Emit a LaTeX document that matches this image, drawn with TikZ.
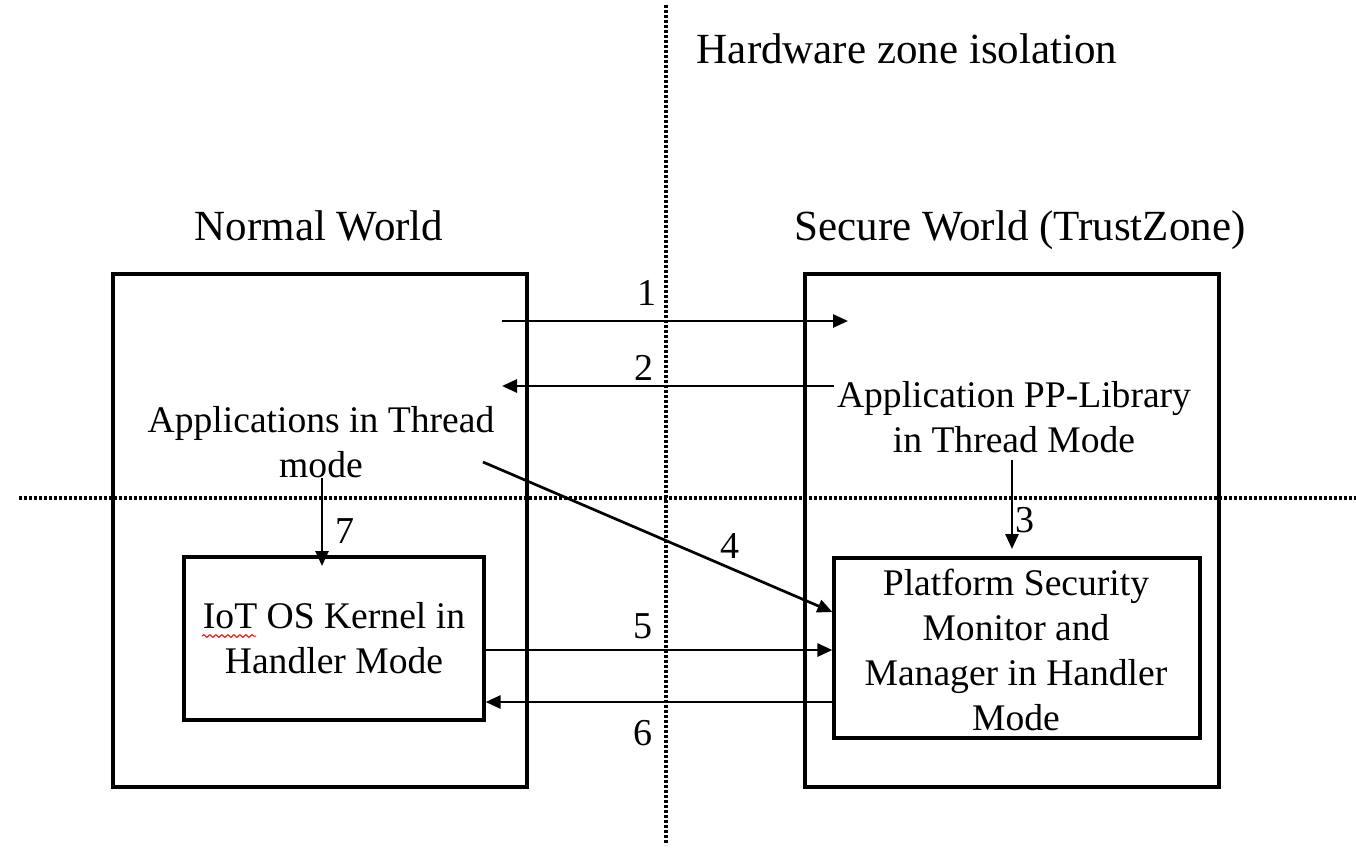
\documentclass[tikz,border=0pt]{standalone}
\usepackage{fontspec}
\setmainfont{Liberation Serif}
\usetikzlibrary{arrows.meta,fit,decorations.pathmorphing}
\begin{document}
\begin{tikzpicture}[x=0.5pt,y=-0.5pt,
  box/.style={draw, line width=1.6pt, inner sep=0pt},
  zone/.style={line width=1.7pt, dash pattern=on 1.4pt off 1.1pt},
  flow/.style={line width=1.35pt, -{Triangle[length=7.5pt,width=6.5pt]}},
  title/.style={font=\fontsize{21.5pt}{22.5pt}\selectfont, anchor=base, inner sep=0pt},
  txt/.style={font=\fontsize{18.8pt}{22.5pt}\selectfont, align=center, anchor=base, inner sep=0pt},
  num/.style={font=\fontsize{19pt}{22.5pt}\selectfont, anchor=base, inner sep=0pt},
]
\useasboundingbox[fill=white] (0,0) rectangle (1356,848);

% isolation boundaries
\coordinate (vtop) at (666,5);
\coordinate (vbot) at (666,845);
\coordinate (hleft) at (19,498);
\coordinate (hright) at (1360,498);
\draw[zone] (vtop) -- (vbot);
\draw[zone] (hleft) -- (hright);

% titles
\node[title] (hw) at (907,63) {Hardware zone isolation};
\node[title] (nwt) at (319,240) {Normal World};
\node[title] (swt) at (1020,240) {Secure World (TrustZone)};

% worlds
\node[box, fit={(113,274) (527,787)}] (normal) {};
\node[box, fit={(805,274) (1219,787)}] (secure) {};

% inner boxes
\node[box, fit={(184,557) (484,720)}] (kernel) {};
\node[box, fit={(834,558) (1200,738)}] (psm) {};

% texts (anchored at the baseline of their last line)
\node[txt] (apps) at (321,477) {Applications in Thread\\mode};
\node[txt] (lib) at (1014,452) {Application PP-Library\\in Thread Mode};
\node[txt] (ktext) at (334,673) {IoT OS Kernel in\\Handler Mode};
\node[txt] (ptext) at (1016,730) {Platform Security\\Monitor and\\Manager in Handler\\Mode};
\draw[red, line width=0.5pt, decorate, decoration={snake, amplitude=0.7pt, segment length=3pt}] (202,636) -- (256,636);

% connector ends
\coordinate (a1s) at (502,321);
\coordinate (a1e) at (848,321);
\coordinate (a2s) at (834,386);
\coordinate (a2e) at (502,386);
\coordinate (a3s) at (1012,460);
\coordinate (a3e) at (1012,549);
\coordinate (a7s) at (322,478);
\coordinate (a7e) at (322,566);
\coordinate (a4s) at (483,462);

% connectors
\draw[flow] (a1s) -- (a1e);
\draw[flow] (a2s) -- (a2e);
\draw[flow] (a3s) -- (a3e);
\draw[flow] (a7s) -- (a7e);
\draw[flow] (a4s) -- (psm.west |- 0,612);
\draw[flow] (kernel.east |- 0,650) -- (psm.west |- 0,650);
\draw[flow] (psm.west |- 0,702) -- (kernel.east |- 0,702);

% step numbers
\node[num] (n1) at (647,305) {1};
\node[num] (n2) at (644,380) {2};
\node[num] (n3) at (1025,532) {3};
\node[num] (n4) at (730,558) {4};
\node[num] (n5) at (643,638) {5};
\node[num] (n6) at (643,745) {6};
\node[num] (n7) at (345,543) {7};
\end{tikzpicture}
\end{document}
